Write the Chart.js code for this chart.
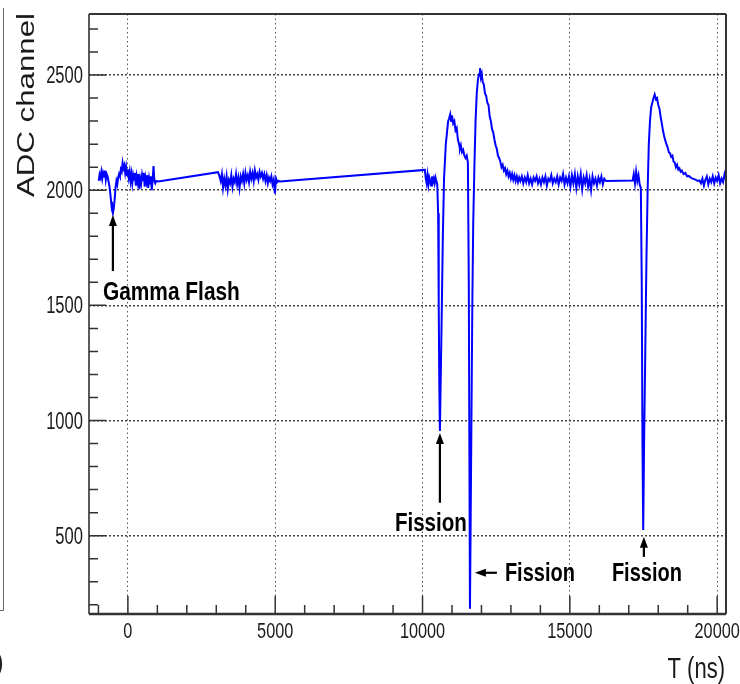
<!DOCTYPE html>
<html>
<head>
<meta charset="utf-8">
<script src="https://cdn.jsdelivr.net/npm/chart.js@4.4.1/dist/chart.umd.min.js"></script>
<style>
  html, body { margin: 0; padding: 0; background: #fff; }
  #wrap { width: 740px; height: 684px; }
</style>
</head>
<body>
<div id="wrap"><canvas id="traceChart" width="740" height="684"></canvas></div>
<script>
// Digitizer trace, [time (ns), ADC channel]

// Gamma flash window
const flashSegment = [
  [-990, 2040], [-960, 2068], [-930, 2055], [-900, 2080], [-870, 2050], [-840, 2075],
  [-810, 2060], [-780, 2085], [-750, 2045], [-720, 2070], [-690, 2060], [-660, 2040],
  [-630, 2020], [-600, 1990], [-570, 1950], [-540, 1915], [-510, 1900], [-480, 1920],
  [-450, 1960], [-420, 2010], [-390, 2040], [-360, 2025], [-330, 2055], [-300, 2070],
  [-270, 2060], [-240, 2090], [-210, 2080], [-180, 2118], [-150, 2095], [-120, 2108],
  [-90, 2075], [-60, 2100], [-30, 2065], [0, 2090], [30, 2055], [60, 2080], [90, 2040],
  [120, 2070], [150, 2030], [180, 2065], [210, 2045], [240, 2075], [270, 2020], [300, 2060],
  [330, 2035], [360, 2070], [390, 2005], [420, 2050], [450, 2030], [480, 2065], [510, 2040],
  [540, 2075], [570, 2015], [600, 2055], [630, 2035], [660, 2065], [690, 2010], [720, 2050],
  [750, 2025], [780, 2060], [810, 2000], [840, 2045], [870, 2105], [900, 2040], [930, 2030],
  [960, 2040], [1030, 2038]
];

// Second noisy stretch
const baselineSegment = [
  [3060, 2078], [3110, 2060], [3150, 2040], [3190, 2070], [3230, 2010], [3270, 2050],
  [3310, 2020], [3350, 2060], [3390, 2005], [3430, 2045], [3470, 2030], [3510, 2065],
  [3550, 2015], [3590, 2050], [3630, 2035], [3670, 2070], [3710, 2025], [3750, 2055],
  [3790, 2010], [3830, 2060], [3870, 2040], [3910, 2070], [3950, 2030], [3990, 2075],
  [4030, 2045], [4070, 2065], [4110, 2035], [4150, 2080], [4190, 2050], [4230, 2075],
  [4270, 2040], [4310, 2085], [4350, 2055], [4390, 2070], [4430, 2045], [4470, 2080],
  [4510, 2060], [4550, 2075], [4590, 2050], [4630, 2070], [4670, 2040], [4710, 2065],
  [4750, 2030], [4790, 2055], [4830, 2040], [4870, 2060], [4910, 2025], [4950, 2045],
  [4990, 1985], [5030, 2050], [5070, 2035], [5110, 2040], [5160, 2038]
];

// First two fissions and their tails
const fissionPairSegment = [
  [10080, 2088], [10110, 2050], [10140, 2030], [10170, 2065], [10200, 2025], [10230, 2055],
  [10260, 2040], [10290, 2020], [10320, 2060], [10350, 2035], [10380, 2050], [10410, 2030],
  [10440, 2055], [10470, 2040], [10500, 2025],
  [10530, 1900], [10550, 1500], [10570, 1150], [10590, 955], [10620, 1200], [10650, 1450],
  [10690, 1800], [10730, 2050], [10790, 2200], [10830, 2250], [10870, 2300], [10900, 2310],
  [10940, 2330], [10970, 2300], [11000, 2325], [11040, 2290], [11080, 2300], [11120, 2260],
  [11160, 2270], [11200, 2220], [11240, 2200], [11270, 2180], [11300, 2195], [11340, 2165],
  [11380, 2175], [11420, 2150], [11460, 2140], [11500, 2150], [11540, 2120],
  [11570, 1600], [11590, 900], [11610, 183], [11630, 500], [11660, 1000], [11690, 1500],
  [11720, 1850], [11760, 2100], [11800, 2300], [11840, 2420], [11880, 2480], [11920, 2505],
  [11950, 2530], [11980, 2490], [12010, 2505], [12040, 2470], [12080, 2460], [12120, 2420],
  [12160, 2410], [12200, 2380], [12240, 2370], [12280, 2320], [12320, 2300], [12360, 2265],
  [12400, 2250], [12440, 2220], [12480, 2195], [12520, 2180], [12560, 2150], [12600, 2140],
  [12640, 2125], [12680, 2100], [12720, 2110], [12760, 2085], [12800, 2095], [12840, 2070],
  [12880, 2085], [12920, 2060], [12960, 2075], [13000, 2050], [13040, 2070], [13080, 2045],
  [13120, 2065], [13160, 2040], [13200, 2060], [13240, 2035], [13280, 2055],
  [13320, 2040], [13370, 2060], [13420, 2030], [13470, 2055], [13520, 2035], [13570, 2065],
  [13620, 2030], [13670, 2050], [13720, 2025], [13770, 2055], [13820, 2040], [13870, 2060],
  [13920, 2030], [13970, 2050], [14020, 2025], [14070, 2055], [14120, 2035], [14170, 2060],
  [14220, 2020], [14270, 2050], [14320, 2040], [14370, 2065], [14420, 2030], [14470, 2050],
  [14520, 2035], [14570, 2060], [14620, 2025], [14670, 2055], [14720, 2040], [14770, 2070],
  [14820, 2025], [14870, 2055], [14920, 2030], [14970, 2060], [15020, 2015], [15070, 2065],
  [15120, 2030], [15170, 2070], [15220, 2010], [15270, 2060], [15320, 2025], [15370, 2070],
  [15420, 2005], [15470, 2055], [15520, 2030], [15570, 2065], [15620, 2015], [15670, 2050],
  [15720, 2000], [15770, 2060], [15820, 2030], [15870, 2050], [15920, 2020], [15970, 2055],
  [16020, 2035], [16070, 2060], [16120, 2025], [16170, 2050], [16230, 2040]
];

// Third fission
const lastFissionSegment = [
  [17130, 2042], [17170, 2070], [17210, 2030], [17250, 2080], [17290, 2040], [17330, 2065],
  [17370, 2025], [17410, 2010], [17440, 1600], [17465, 900], [17490, 525], [17520, 900],
  [17560, 1300], [17600, 1700], [17640, 2000], [17680, 2200], [17720, 2300], [17760, 2360],
  [17800, 2380], [17840, 2400], [17880, 2415], [17920, 2395], [17960, 2400], [18000, 2370],
  [18040, 2355], [18080, 2320], [18120, 2290], [18160, 2260], [18200, 2235], [18240, 2215],
  [18280, 2200], [18320, 2185], [18360, 2165], [18400, 2160], [18440, 2145], [18480, 2150],
  [18520, 2125], [18560, 2120], [18600, 2100], [18640, 2110], [18680, 2090], [18720, 2095],
  [18760, 2080], [18800, 2085], [18860, 2070], [18920, 2075], [18980, 2060], [19040, 2062],
  [19100, 2055], [19160, 2050], [19220, 2048], [19280, 2045], [19340, 2040], [19400, 2042],
  [19450, 2030], [19500, 2050], [19550, 2020], [19600, 2045], [19650, 2060], [19700, 2025],
  [19750, 2050], [19800, 2035], [19850, 2060], [19900, 2030], [19950, 2055], [20000, 2040],
  [20050, 2065], [20100, 2030], [20150, 2050], [20200, 2035], [20250, 2070], [20300, 2045]
];

const xMajorTicks = [0, 5000, 10000, 15000, 20000];
const yMajorTicks = [500, 1000, 1500, 2000, 2500];
const xRange = [-1320, 20300];
const yRange = [160, 2765];

// Labels and arrows, in data coordinates
const notes = [
  { text: 'Gamma Flash', x: -849, y: 1523, width: 137 },
  { text: 'Fission', x: 9062, y: 521, width: 72 },
  { text: 'Fission', x: 12795, y: 304, width: 70 },
  { text: 'Fission', x: 16427, y: 304, width: 70 }
];
const upArrows = [
  { x: -509, tip: 1892, tail: 1649 },
  { x: 10590, tip: 946, tail: 643 },
  { x: 17513, tip: 495, tail: 408 }
];
const leftArrows = [{ y: 339, tip: 11777, tail: 12524 }];

const trace = [...flashSegment, ...baselineSegment, ...fissionPairSegment, ...lastFissionSegment]
  .map(([x, y]) => ({ x: x, y: y }));

const FONT = "'Liberation Sans', Arial, Helvetica, sans-serif";

function squeezedText(ctx, text, x, y, font, align, sx) {
  ctx.save();
  ctx.font = font;
  ctx.textAlign = align;
  ctx.textBaseline = 'alphabetic';
  ctx.translate(x, y);
  ctx.scale(sx, 1);
  ctx.fillText(text, 0, 0);
  ctx.restore();
}

function arrowHead(ctx, tx, ty, dx, dy) {
  // dx,dy: unit direction the arrow points to
  const len = 11, half = 4;
  ctx.beginPath();
  ctx.moveTo(tx, ty);
  ctx.lineTo(tx - dx * len - dy * half, ty - dy * len + dx * half);
  ctx.lineTo(tx - dx * len + dy * half, ty - dy * len - dx * half);
  ctx.closePath();
  ctx.fill();
}

const decorations = {
  id: 'decorations',
  afterDraw(chart) {
    const ctx = chart.ctx;
    const xs = chart.scales.x, ys = chart.scales.y;
    const a = chart.chartArea;
    ctx.save();

    // frame
    ctx.strokeStyle = '#333';
    ctx.lineWidth = 2;
    ctx.beginPath();
    ctx.moveTo(a.left, a.top); ctx.lineTo(a.right, a.top);
    ctx.moveTo(a.right, a.top); ctx.lineTo(a.right, a.bottom);
    ctx.stroke();
    ctx.lineWidth = 1.6;
    ctx.beginPath();
    ctx.moveTo(a.left, a.top); ctx.lineTo(a.left, a.bottom);
    ctx.stroke();
    ctx.lineWidth = 2.5;
    ctx.beginPath();
    ctx.moveTo(a.left, a.bottom); ctx.lineTo(a.right, a.bottom);
    ctx.stroke();

    // ticks
    ctx.lineWidth = 1.5;
    ctx.beginPath();
    for (let v = -1000; v <= xRange[1]; v += 1000) {
      const px = xs.getPixelForValue(v);
      const len = xMajorTicks.includes(v) ? 18 : 9;
      ctx.moveTo(px, a.bottom); ctx.lineTo(px, a.bottom - len);
    }
    for (let v = 200; v <= yRange[1]; v += 100) {
      const py = ys.getPixelForValue(v);
      const len = yMajorTicks.includes(v) ? 17 : 9;
      ctx.moveTo(a.left, py); ctx.lineTo(a.left + len, py);
    }
    ctx.stroke();

    // tick labels
    ctx.fillStyle = '#1a1a1a';
    xMajorTicks.forEach(v => {
      squeezedText(ctx, String(v), xs.getPixelForValue(v), 638, '22px ' + FONT, 'center', 0.74);
    });
    yMajorTicks.forEach(v => {
      squeezedText(ctx, String(v), 83, ys.getPixelForValue(v) + 8, '23px ' + FONT, 'right', 0.72);
    });

    // axis titles
    squeezedText(ctx, 'T (ns)', 725, 678, '29px ' + FONT, 'right', 0.76);
    ctx.save();
    ctx.font = '23px ' + FONT;
    ctx.translate(33.5, 197);
    ctx.rotate(-Math.PI / 2);
    ctx.scale(184 / ctx.measureText('ADC channel').width, 1);
    ctx.textAlign = 'left';
    ctx.fillText('ADC channel', 0, 0);
    ctx.restore();

    // annotations
    ctx.fillStyle = '#000';
    ctx.strokeStyle = '#000';
    notes.forEach(n => {
      ctx.save();
      ctx.font = 'bold 26px ' + FONT;
      const w = ctx.measureText(n.text).width;
      ctx.translate(xs.getPixelForValue(n.x), ys.getPixelForValue(n.y));
      ctx.scale(n.width / w, 1);
      ctx.textAlign = 'left';
      ctx.fillText(n.text, 0, 0);
      ctx.restore();
    });
    ctx.lineWidth = 2.2;
    upArrows.forEach(ar => {
      const px = xs.getPixelForValue(ar.x);
      const tip = ys.getPixelForValue(ar.tip), tail = ys.getPixelForValue(ar.tail);
      ctx.beginPath();
      ctx.moveTo(px, tail); ctx.lineTo(px, tip + 8);
      ctx.stroke();
      arrowHead(ctx, px, tip, 0, -1);
    });
    leftArrows.forEach(ar => {
      const py = ys.getPixelForValue(ar.y);
      const tip = xs.getPixelForValue(ar.tip), tail = xs.getPixelForValue(ar.tail);
      ctx.beginPath();
      ctx.moveTo(tail, py); ctx.lineTo(tip + 8, py);
      ctx.stroke();
      arrowHead(ctx, tip, py, -1, 0);
    });

    // edge of the neighbouring panel
    ctx.strokeStyle = '#666';
    ctx.lineWidth = 1;
    ctx.beginPath();
    ctx.moveTo(3.5, 8); ctx.lineTo(3.5, 610.5); ctx.lineTo(0, 610.5);
    ctx.stroke();
    ctx.fillStyle = '#222';
    ctx.font = '30px ' + FONT;
    ctx.textAlign = 'left';
    ctx.fillText(')', -6, 672);

    ctx.restore();
  }
};

new Chart(document.getElementById('traceChart'), {
  type: 'line',
  data: {
    datasets: [{
      data: trace,
      borderColor: '#0000ff',
      borderWidth: 2,
      pointRadius: 0,
      tension: 0,
      fill: false
    }]
  },
  options: {
    responsive: false,
    animation: false,
    layout: { padding: { top: 14, right: 14, left: 0, bottom: 0 } },
    plugins: { legend: { display: false }, tooltip: { enabled: false } },
    scales: {
      x: {
        type: 'linear',
        min: xRange[0],
        max: xRange[1],
        afterBuildTicks: s => { s.ticks = xMajorTicks.map(v => ({ value: v })); },
        afterFit: s => { s.height = 70; },
        ticks: { display: false },
        grid: { color: '#555', lineWidth: 1, drawTicks: false },
        border: { display: false, dash: [1.5, 3] }
      },
      y: {
        type: 'linear',
        min: yRange[0],
        max: yRange[1],
        afterBuildTicks: s => { s.ticks = yMajorTicks.map(v => ({ value: v })); },
        afterFit: s => { s.width = 89; },
        ticks: { display: false },
        grid: { color: '#444', lineWidth: 1.5, drawTicks: false },
        border: { display: false, dash: [2, 2] }
      }
    }
  },
  plugins: [decorations]
});
</script>
</body>
</html>
